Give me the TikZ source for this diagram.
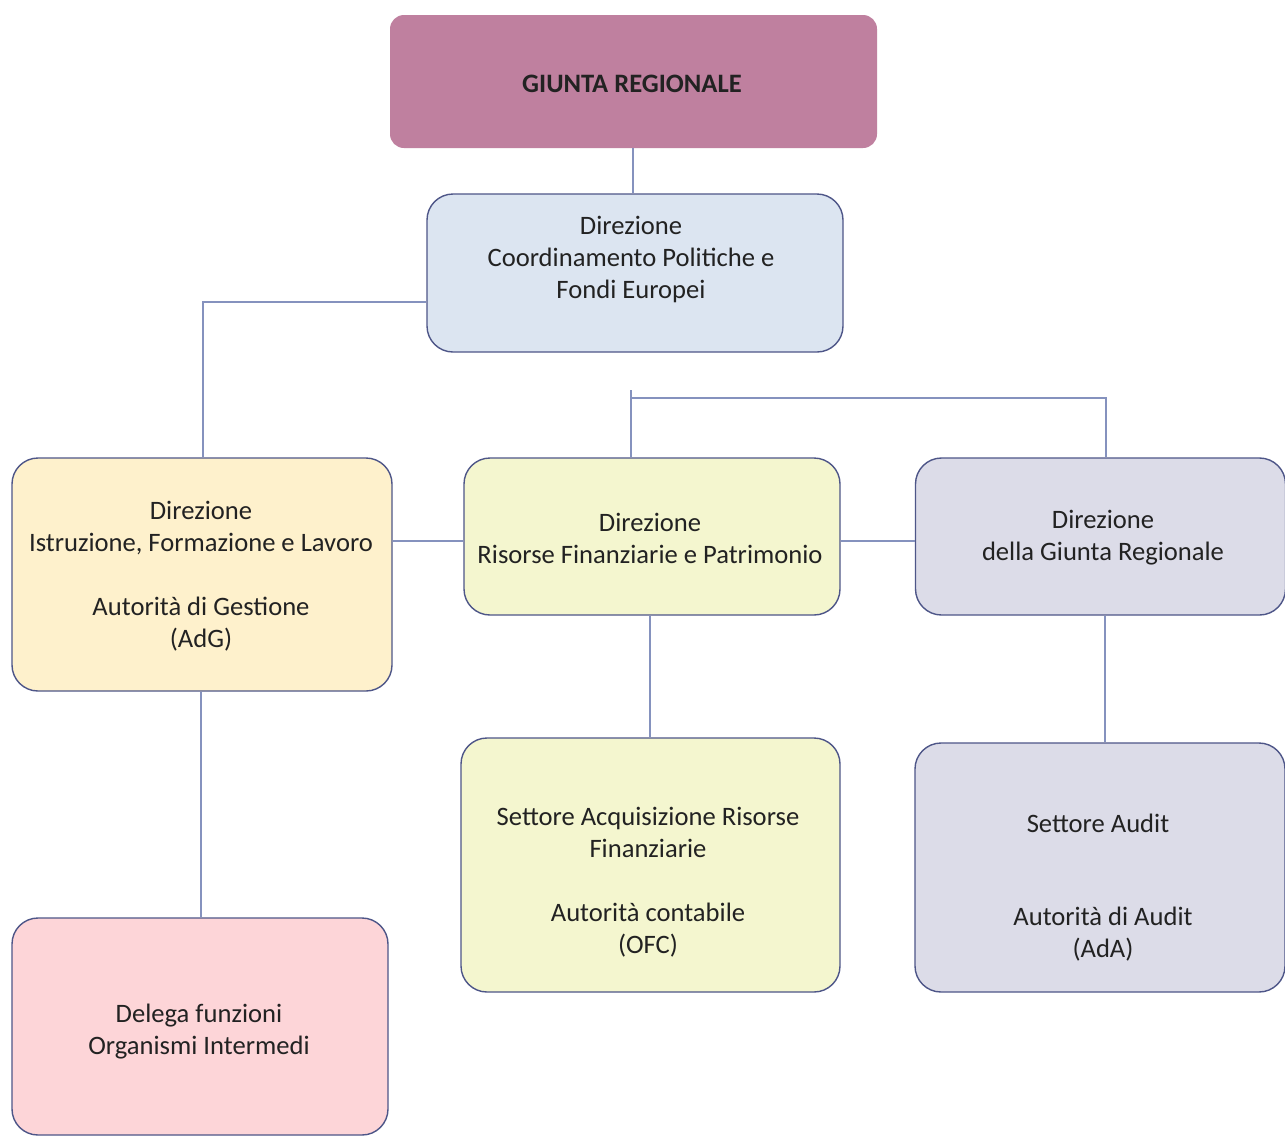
\documentclass[tikz,border=0pt]{standalone}
\usepackage{fontspec}
\setmainfont{Carlito}
\begin{document}
\begin{tikzpicture}[x=0.5pt,y=-0.5pt,
  box/.style={draw=boxline, line width=0.7pt, rounded corners=13pt, inner sep=0pt},
  txt/.style={align=center, text=txtcol, font=\fontsize{13.3}{16}\selectfont, inner sep=0pt},
  conn/.style={draw=connline, line width=0.6pt}]
\definecolor{boxline}{HTML}{4E5688}
\definecolor{connline}{HTML}{8592BE}
\definecolor{txtcol}{HTML}{222222}
\definecolor{cGiunta}{HTML}{BF809F}
\definecolor{cCoord}{HTML}{DCE5F1}
\definecolor{cIstr}{HTML}{FEF1CC}
\definecolor{cRis}{HTML}{F4F6CF}
\definecolor{cLav}{HTML}{DCDCE8}
\definecolor{cPink}{HTML}{FDD5D8}
\useasboundingbox[fill=white] (0,0) rectangle (1285,1137);

% boxes
\node[fill=cGiunta, rounded corners=7pt, minimum width=243.5pt, minimum height=66.5pt, inner sep=0pt] (giunta) at (633.5,81.5) {};
\node[box, fill=cCoord, minimum width=208pt, minimum height=79pt] (coord) at (635,273) {};
\node[box, fill=cIstr, minimum width=190pt, minimum height=116.5pt] (istr) at (202,574.5) {};
\node[box, fill=cRis, minimum width=188pt, minimum height=78.5pt] (ris) at (652,536.5) {};
\node[box, fill=cLav, minimum width=185pt, minimum height=78.5pt] (dgr) at (1100.5,536.5) {};
\node[box, fill=cRis, minimum width=189.5pt, minimum height=127pt] (acq) at (650.5,865) {};
\node[box, fill=cLav, minimum width=185pt, minimum height=124.5pt] (audit) at (1100,867.5) {};
\node[box, fill=cPink, minimum width=188pt, minimum height=108.5pt] (deleg) at (200,1026.5) {};

% texts
\node[txt, font=\fontsize{13.3}{16}\selectfont\bfseries] (tgiunta) at (632,84) {GIUNTA REGIONALE};
\node[txt] (tcoord) at (631,259) {Direzione\\Coordinamento Politiche e\\Fondi Europei};
\node[txt] (tistr) at (201,576) {Direzione\\Istruzione, Formazione e Lavoro\\[16pt]Autorità di Gestione\\(AdG)};
\node[txt] (tris) at (650,538) {Direzione\\Risorse Finanziarie e Patrimonio};
\node[txt] (tdgr) at (1103,538) {Direzione\\della Giunta Regionale};
\node[txt] (tacq) at (648,882) {Settore Acquisizione Risorse\\Finanziarie\\[16pt]Autorità contabile\\(OFC)};
\node[txt] (taud1) at (1098,823) {Settore Audit};
\node[txt] (taud2) at (1103,934) {Autorità di Audit\\(AdA)};
\node[txt] (tdeleg) at (199,1032) {Delega funzioni\\Organismi Intermedi};

% connectors
\coordinate (stub) at (631,390);
\coordinate (hj) at (631,398);
\draw[conn] (giunta.south -| 633,0) -- (coord.north -| 633,0);
\draw[conn] (coord.west |- 0,302) -| (istr.north -| 203,0);
\draw[conn] (stub) -- (ris.north -| 631,0);
\draw[conn] (hj) -| (dgr.north -| 1106,0);
\draw[conn] (istr.east |- 0,541) -- (ris.west |- 0,541);
\draw[conn] (ris.east |- 0,541) -- (dgr.west |- 0,541);
\draw[conn] (istr.south -| 201,0) -- (deleg.north -| 201,0);
\draw[conn] (ris.south -| 650,0) -- (acq.north -| 650,0);
\draw[conn] (dgr.south -| 1105,0) -- (audit.north -| 1105,0);
\end{tikzpicture}
\end{document}
